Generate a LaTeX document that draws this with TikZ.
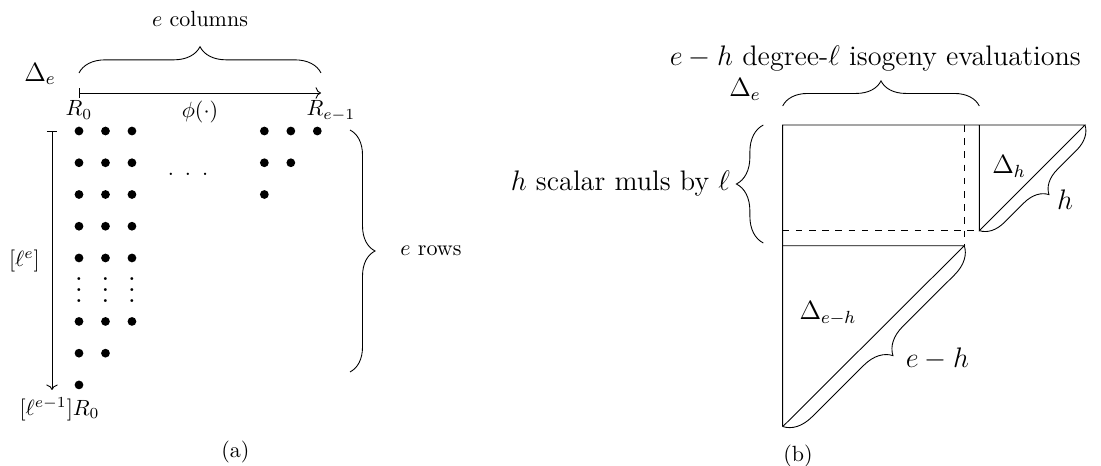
\documentclass[tikz,border=0pt]{standalone}
\usepackage{amsmath,amssymb}
\usepackage{tikz}
\usetikzlibrary{arrows.meta,positioning,decorations.pathreplacing}

\begin{document}
\begin{tikzpicture}[
    dot/.style={circle, fill, inner sep=0pt, minimum size=0.14cm},
    brc/.style={decorate, decoration={brace, amplitude=#1}},
    brc/.default=0.42cm,
    arr/.style={|->},
    big/.style={font=\large, scale=1.07},
    dlt/.style={font=\large}]
  \useasboundingbox (0,0) rectangle (17.588,7.444);

  % (a) the points R_i, row by row
  \foreach \k/\cols in {0/{0,1,2,7,8,9}, 1/{0,1,2,7,8}, 2/{0,1,2,7},
                        3/{0,1,2}, 4/{0,1,2}, 6/{0,1,2}, 7/{0,1}, 8/{0}}
    \foreach \j in \cols
      \node[dot] (p\k-\j) at (1.262+0.423*\j, 5.351-0.507*\k) {};
  \foreach \j in {0,1,2}
    \node[scale=1.25, inner sep=0pt] (vd\j) at (1.262+0.423*\j, 2.947) {$\vdots$};
  \node (hd) at (3.003,4.665) {.\enspace.\enspace.};

  % (a) isogeny direction
  \coordinate (a0) at (1.262,5.958);
  \coordinate (a1) at (5.128,5.958);
  \draw[arr] (a0) -- (a1) node[midway, below] (phi) {$\phi(\cdot)$};
  \node[below=0pt of a0] (r0) {$R_0$};
  \node[below=0pt of a1, xshift=0.16cm] (r1) {$R_{e-1}$};
  \draw[brc] ([yshift=0.32cm]a0) -- ([yshift=0.32cm]a1)
    node[midway, above=0.61cm] (cols) {$e$ columns};
  \node[dlt] (dea) at (0.639,6.262) {$\Delta_e$};

  % (a) scalar multiplications
  \coordinate (v0) at (0.831,5.351);
  \coordinate (v1) at (0.831,1.214);
  \draw[arr] (v0) -- (v1) node[midway, left=2pt] (le) {$[\ell^e]$};
  \node[below=0pt of v1, xshift=0.12cm] (lr) {$[\ell^{e-1}]R_0$};
  \draw[brc=0.4cm] (5.591,5.367) -- (5.591,1.502)
    node[midway, right=0.68cm] (rows) {$e$ rows};
  \node (capa) at (3.76,0.216) {(a)};

  % (b) splitting Delta_e
  \coordinate (tl) at (12.503,5.447);
  \coordinate (tr) at (17.332,5.447);
  \coordinate (st) at (15.644,5.447);
  \coordinate (sb) at (15.644,3.759);
  \coordinate (dt) at (15.404,5.447);
  \coordinate (db) at (15.404,3.519);
  \coordinate (ld) at (12.503,3.759);
  \coordinate (lm) at (12.503,3.519);
  \coordinate (bl) at (12.503,0.628);
  \draw (bl) -- (tl) -- (tr) -- (sb) -- (st);
  \draw (lm) -- (db) -- (bl);
  \draw[dashed] (ld) -- (sb);
  \draw[dashed] (dt) -- (db);

  \draw[brc=0.4cm] ([yshift=0.304cm]tl) -- ([yshift=0.304cm]st)
    node[midway, above=0.42cm, xshift=-0.09cm, big] (top)
    {$e-h$ degree-$\ell$ isogeny evaluations};
  \node[dlt] (deb) at (11.901,6.022) {$\Delta_e$};
  \draw[brc=0.43cm] ([shift={(-0.309,0.043)}]lm) -- ([xshift=-0.309cm]tl)
    node[midway, left=0.4cm, big] (muls) {$h$ scalar muls by $\ell$};
  \draw[brc=0.38cm] (tr) -- (sb)
    node[midway, xshift=0.525cm, yshift=-0.354cm, big] (hl) {$h$};
  \draw[brc=0.44cm] (db) -- (bl)
    node[midway, xshift=1.022cm, yshift=-0.365cm, big] (ehl) {$e-h$};
  \node[dlt] (dh) at (16.118,4.792) {$\Delta_h$};
  \node[dlt] (deh) at (13.227,2.444) {$\Delta_{e-h}$};
  \node (capb) at (12.748,0.16) {(b)};
\end{tikzpicture}
\end{document}
